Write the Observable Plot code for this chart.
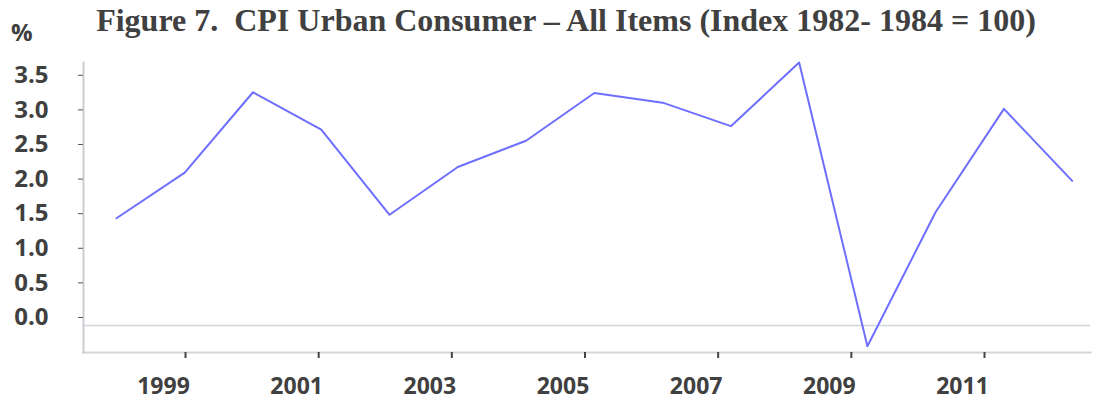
<!DOCTYPE html>
<html>
<head>
<meta charset="utf-8">
<script src="https://cdn.jsdelivr.net/npm/d3@7"></script>
<script src="https://cdn.jsdelivr.net/npm/@observablehq/plot@0.6"></script>
<style>
  body { margin: 0; background: #fff; }
  #page { position: relative; width: 1095px; height: 405px; overflow: hidden; }
  #head { position: relative; height: 50px; }
  #title { position: absolute; left: 0; top: 2px; width: 1095px; box-sizing: border-box; padding-left: 37px;
           text-align: center; font-family: "Liberation Serif", "Times New Roman", serif; font-weight: bold;
           font-size: 32px; color: #404040; white-space: nowrap; }
  #pct { position: absolute; left: 11px; top: 15px; font-family: "Open Sans", sans-serif; font-weight: bold;
         font-size: 24px; color: #404040; }
  #chart { position: relative; height: 355px; }
  #chart svg { position: absolute; left: 0; top: 0; }
</style>
</head>
<body>
<div id="page">
  <div id="head">
    <div id="pct">%</div>
    <div id="title">Figure 7.&nbsp; CPI Urban Consumer – All Items (Index 1982- 1984 = 100)</div>
  </div>
  <div id="chart"></div>
</div>
<script>
const years = [1998, 1999, 2000, 2001, 2002, 2003, 2004, 2005, 2006, 2007, 2008, 2009, 2010, 2011, 2012];
const cpi = [1.55, 2.21, 3.37, 2.83, 1.60, 2.29, 2.67, 3.36, 3.22, 2.88, 3.80, -0.30, 1.64, 3.13, 2.09];
const xTicks = [1999, 2001, 2003, 2005, 2007, 2009, 2011];
const yTicks = [0, 0.5, 1, 1.5, 2, 2.5, 3, 3.5];

const data = years.map((year, i) => ({year, value: cpi[i]}));
const textStyle = {fontFamily: "'Open Sans', sans-serif", fontWeight: "bold", fontSize: "24px", color: "#404040", background: "transparent", overflow: "visible"};

const main = Plot.plot({
  width: 1095,
  height: 355,
  marginLeft: 83,
  marginRight: 5,
  marginTop: 12,
  marginBottom: 53,
  style: textStyle,
  x: {domain: [1997.517, 2012.268], axis: null},
  y: {domain: [-0.39, 3.8], axis: null},
  marks: [
    Plot.ruleY([0], {stroke: "#d3d7db", strokeWidth: 1.5}),
    Plot.frame({anchor: "bottom", stroke: "#d3d7db", strokeWidth: 2}),
    Plot.frame({anchor: "left", stroke: "#c9cdd1", strokeWidth: 2}),
    Plot.axisY({ticks: yTicks, tickFormat: d3.format(".1f"), tickSize: 5, tickPadding: 30, dy: -8, stroke: "#555", label: null}),
    Plot.line(data, {x: "year", y: "value", stroke: "#6e6eff", strokeWidth: 2})
  ]
});

const axis = Plot.plot({
  width: 1095,
  height: 355,
  marginLeft: 83,
  marginRight: 5,
  marginTop: 12,
  marginBottom: 53,
  style: textStyle,
  x: {domain: [1997.468, 2012.592]},
  y: {axis: null},
  marks: [
    Plot.axisX({ticks: xTicks, tickFormat: () => "", tickSize: 6, strokeWidth: 2, stroke: "#444", label: null}),
    Plot.axisX({ticks: xTicks, tickFormat: d3.format("d"), tickSize: 0, tickPadding: 25, dx: -22, fontSize: 23, label: null})
  ]
});

document.getElementById("chart").append(main, axis);
</script>
</body>
</html>
